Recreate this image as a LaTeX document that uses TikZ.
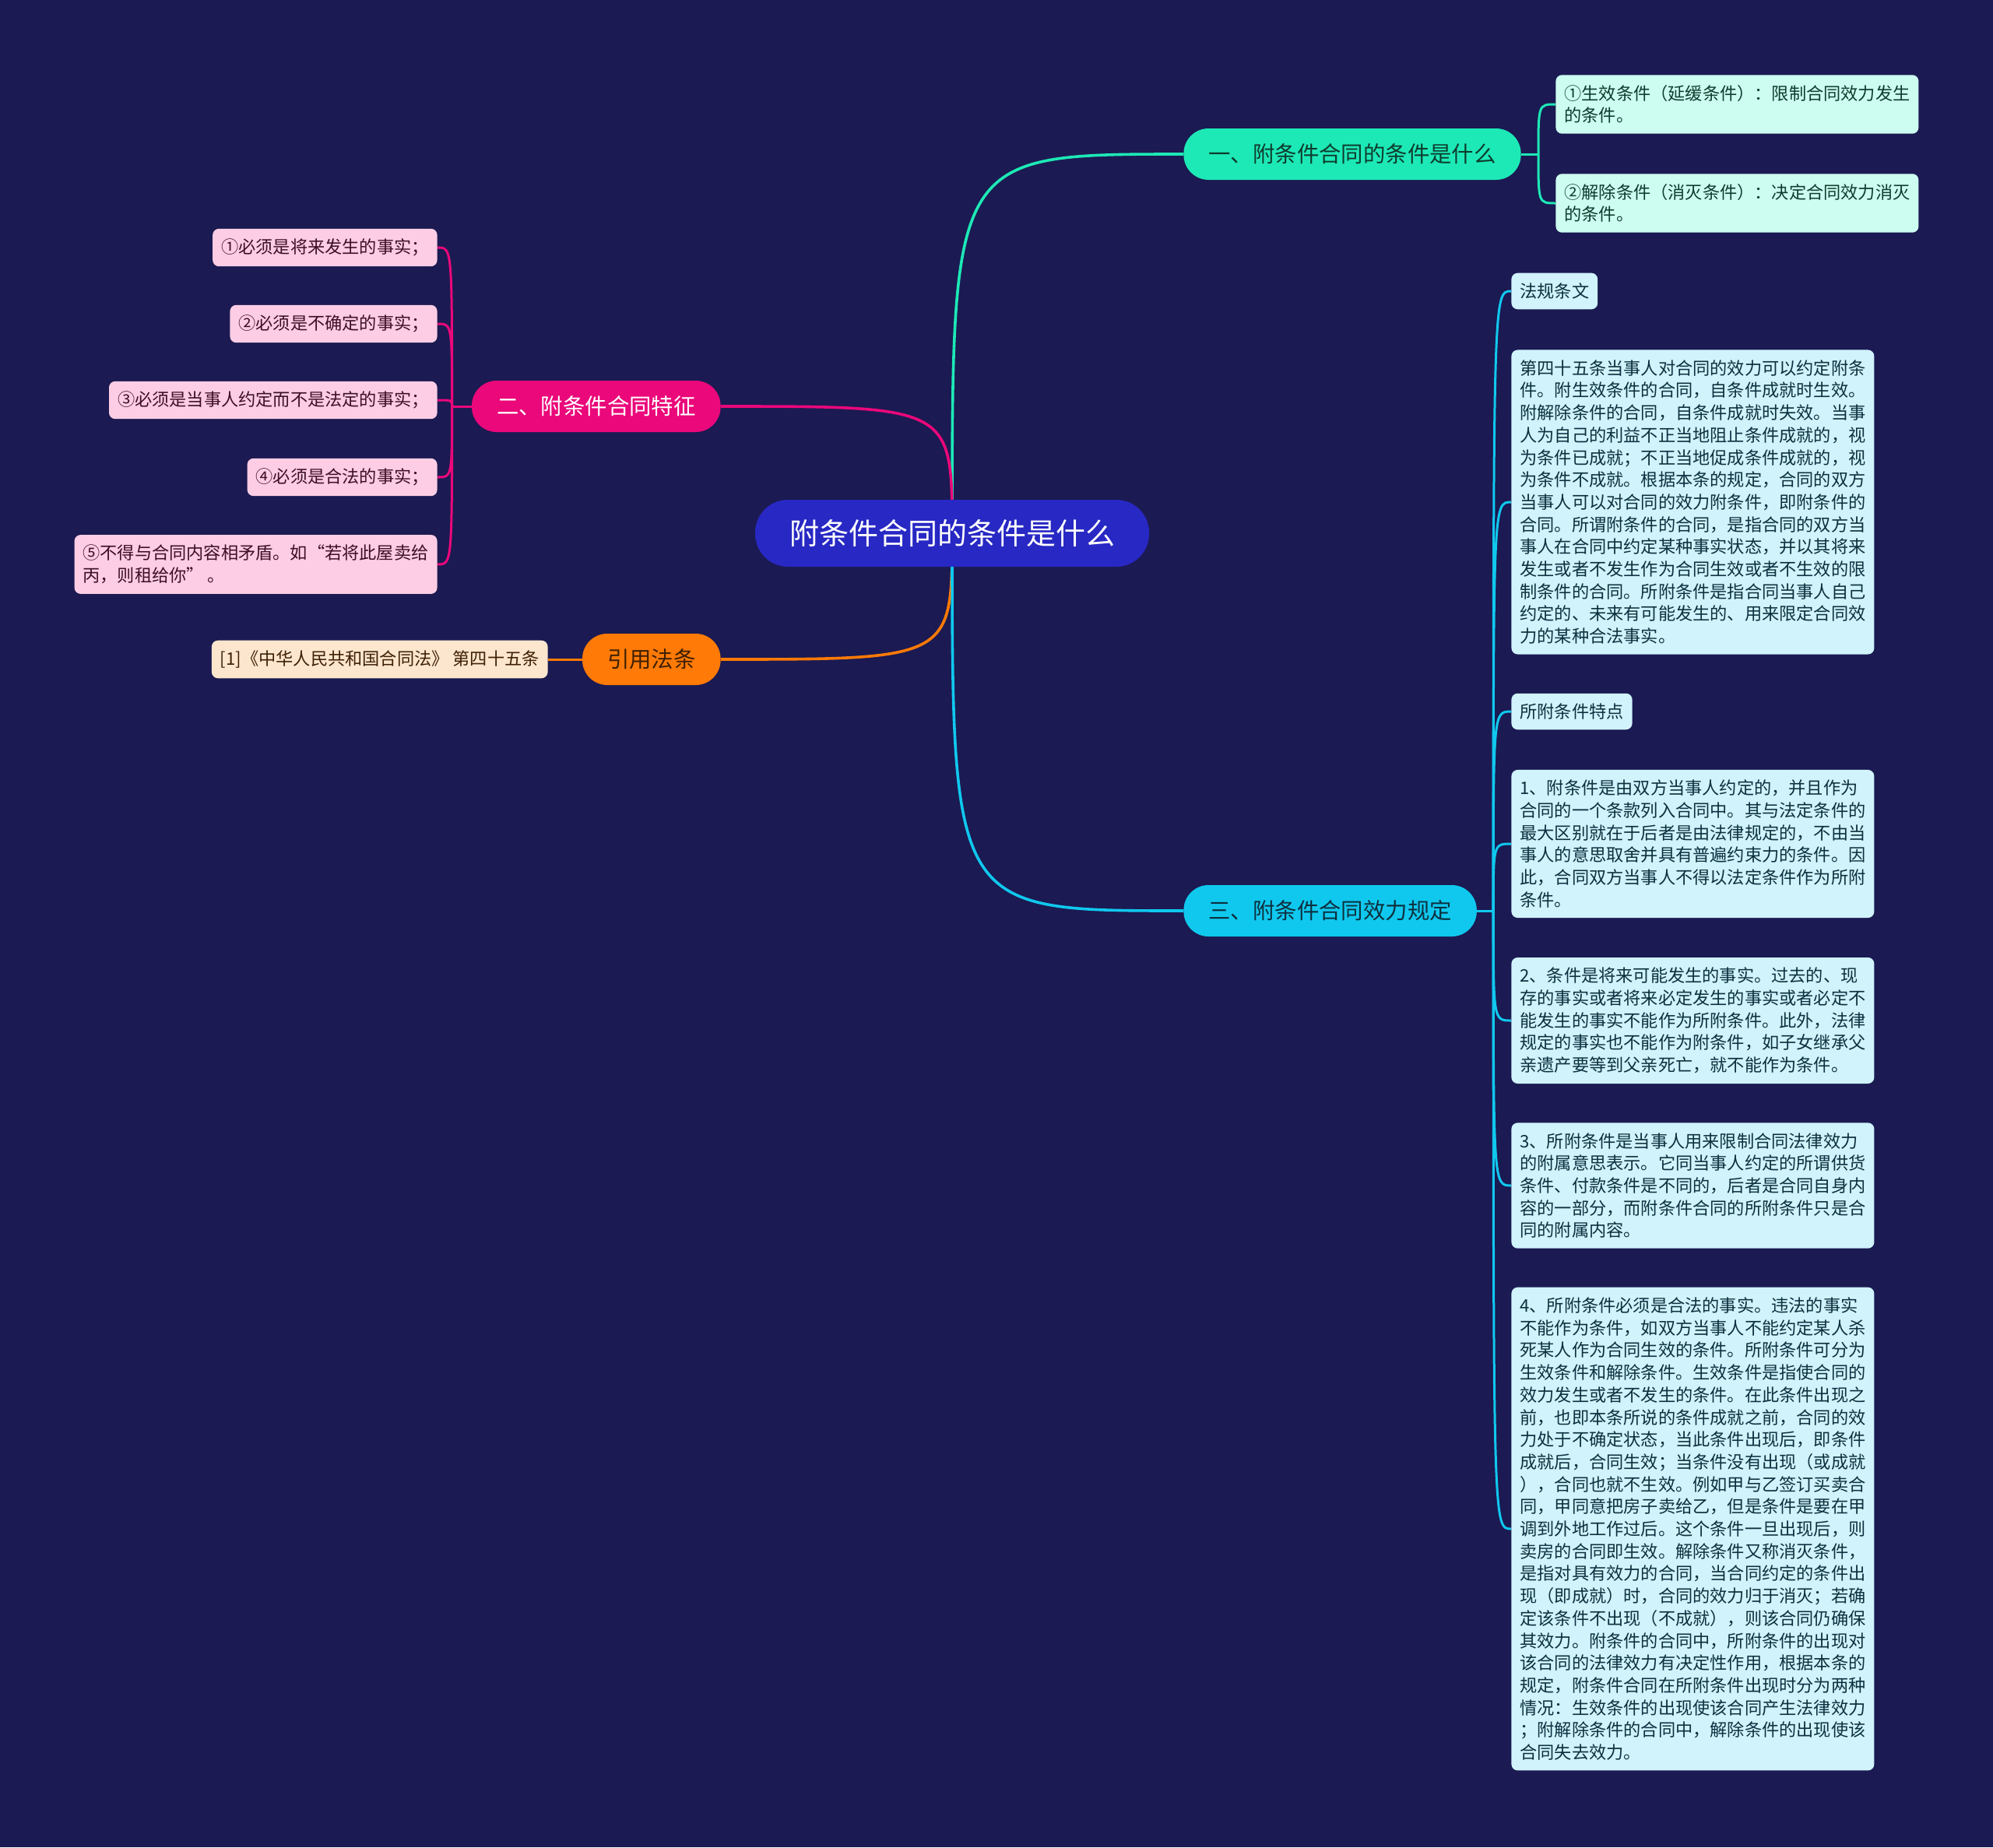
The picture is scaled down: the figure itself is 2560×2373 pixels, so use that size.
\documentclass[tikz,border=0pt]{standalone}
\usepackage{fontspec}
\setmainfont{Noto Sans CJK SC}
\usetikzlibrary{backgrounds}
\definecolor{bgnavy}{RGB}{27,26,82}
\definecolor{rootblue}{RGB}{40,40,196}
\definecolor{condteal}{RGB}{29,233,182}
\definecolor{featpink}{RGB}{234,8,122}
\definecolor{lawsorange}{RGB}{255,122,6}
\definecolor{effcyan}{RGB}{16,200,238}
\definecolor{mintleaf}{RGB}{205,253,240}
\definecolor{pinkleaf}{RGB}{252,205,228}
\definecolor{peachleaf}{RGB}{253,230,206}
\definecolor{cyanleaf}{RGB}{208,243,252}
\definecolor{darkgreen}{RGB}{14,60,46}
\definecolor{darkcyan}{RGB}{12,48,62}
\definecolor{darkpink}{RGB}{62,14,38}
\definecolor{darkbrown}{RGB}{62,32,4}
\newcommand{\leaffont}{\fontsize{11.1pt}{14.35pt}\selectfont}
\newcommand{\branchfont}{\fontsize{14.2pt}{17pt}\selectfont}
\newcommand{\rootfont}{\fontsize{19pt}{23pt}\selectfont}
\tikzset{
  rootbox/.style={fill=rootblue, text=white, rounded corners=21pt, minimum height=43pt, inner xsep=22pt, font=\rootfont},
  branchbox/.style={rounded corners=16pt, minimum height=33pt, inner xsep=16pt, font=\branchfont},
  leafbox/.style={rounded corners=4pt, inner xsep=5.5pt, inner ysep=6.5pt, align=left, font=\leaffont},
  mainlink/.style={line width=1.8pt},
  leaflink/.style={line width=1.5pt}
}
\begin{document}
\begin{tikzpicture}[x=0.5pt, y=-0.5pt]
  % centre and branches
  \node[rootbox] (root) at (1223,685) {附条件合同的条件是什么};
  \node[branchbox, fill=condteal, text=darkgreen, anchor=west] (cond) at (1520,198) {一、附条件合同的条件是什么};
  \node[branchbox, fill=featpink, text=white, anchor=east] (feat) at (926,522) {二、附条件合同特征};
  \node[branchbox, fill=lawsorange, text=darkbrown, anchor=east] (laws) at (926,847) {引用法条};
  \node[branchbox, fill=effcyan, text=darkcyan, anchor=west] (eff) at (1520,1170) {三、附条件合同效力规定};

  % conditions
  \node[leafbox, fill=mintleaf, text=darkgreen, anchor=west] (cond1) at (1998,134) {①生效条件（延缓条件）：限制合同效力发生\\的条件。};
  \node[leafbox, fill=mintleaf, text=darkgreen, anchor=west] (cond2) at (1998,261) {②解除条件（消灭条件）：决定合同效力消灭\\的条件。};

  % features
  \node[leafbox, fill=pinkleaf, text=darkpink, anchor=east] (feat1) at (562,318) {①必须是将来发生的事实；};
  \node[leafbox, fill=pinkleaf, text=darkpink, anchor=east] (feat2) at (562,416) {②必须是不确定的事实；};
  \node[leafbox, fill=pinkleaf, text=darkpink, anchor=east] (feat3) at (562,514) {③必须是当事人约定而不是法定的事实；};
  \node[leafbox, fill=pinkleaf, text=darkpink, anchor=east] (feat4) at (562,613) {④必须是合法的事实；};
  \node[leafbox, fill=pinkleaf, text=darkpink, anchor=east] (feat5) at (562,725) {⑤不得与合同内容相矛盾。如“若将此屋卖给\\丙，则租给你” 。};

  % cited law
  \node[leafbox, fill=peachleaf, text=darkbrown, anchor=east] (lawref) at (704,847) {[1]《中华人民共和国合同法》 第四十五条};

  % effect
  \node[leafbox, fill=cyanleaf, text=darkcyan, anchor=west] (eff1) at (1941,374) {法规条文};
  \node[leafbox, fill=cyanleaf, text=darkcyan, anchor=west] (eff2) at (1941,645) {第四十五条当事人对合同的效力可以约定附条\\件。附生效条件的合同，自条件成就时生效。\\附解除条件的合同，自条件成就时失效。当事\\人为自己的利益不正当地阻止条件成就的，视\\为条件已成就；不正当地促成条件成就的，视\\为条件不成就。根据本条的规定，合同的双方\\当事人可以对合同的效力附条件，即附条件的\\合同。所谓附条件的合同，是指合同的双方当\\事人在合同中约定某种事实状态，并以其将来\\发生或者不发生作为合同生效或者不生效的限\\制条件的合同。所附条件是指合同当事人自己\\约定的、未来有可能发生的、用来限定合同效\\力的某种合法事实。};
  \node[leafbox, fill=cyanleaf, text=darkcyan, anchor=west] (eff3) at (1941,914) {所附条件特点};
  \node[leafbox, fill=cyanleaf, text=darkcyan, anchor=west] (eff4) at (1941,1084) {1、附条件是由双方当事人约定的，并且作为\\合同的一个条款列入合同中。其与法定条件的\\最大区别就在于后者是由法律规定的，不由当\\事人的意思取舍并具有普遍约束力的条件。因\\此，合同双方当事人不得以法定条件作为所附\\条件。};
  \node[leafbox, fill=cyanleaf, text=darkcyan, anchor=west] (eff5) at (1941,1311) {2、条件是将来可能发生的事实。过去的、现\\存的事实或者将来必定发生的事实或者必定不\\能发生的事实不能作为所附条件。此外，法律\\规定的事实也不能作为附条件，如子女继承父\\亲遗产要等到父亲死亡，就不能作为条件。};
  \node[leafbox, fill=cyanleaf, text=darkcyan, anchor=west] (eff6) at (1941,1523) {3、所附条件是当事人用来限制合同法律效力\\的附属意思表示。它同当事人约定的所谓供货\\条件、付款条件是不同的，后者是合同自身内\\容的一部分，而附条件合同的所附条件只是合\\同的附属内容。};
  \node[leafbox, fill=cyanleaf, text=darkcyan, anchor=west] (eff7) at (1941,1964) {4、所附条件必须是合法的事实。违法的事实\\不能作为条件，如双方当事人不能约定某人杀\\死某人作为合同生效的条件。所附条件可分为\\生效条件和解除条件。生效条件是指使合同的\\效力发生或者不发生的条件。在此条件出现之\\前，也即本条所说的条件成就之前，合同的效\\力处于不确定状态，当此条件出现后，即条件\\成就后，合同生效；当条件没有出现（或成就\\），合同也就不生效。例如甲与乙签订买卖合\\同，甲同意把房子卖给乙，但是条件是要在甲\\调到外地工作过后。这个条件一旦出现后，则\\卖房的合同即生效。解除条件又称消灭条件，\\是指对具有效力的合同，当合同约定的条件出\\现（即成就）时，合同的效力归于消灭；若确\\定该条件不出现（不成就），则该合同仍确保\\其效力。附条件的合同中，所附条件的出现对\\该合同的法律效力有决定性作用，根据本条的\\规定，附条件合同在所附条件出现时分为两种\\情况：生效条件的出现使该合同产生法律效力\\；附解除条件的合同中，解除条件的出现使该\\合同失去效力。};

  \begin{scope}[on background layer]
    \fill[bgnavy] (0,0) rectangle (2560,2373);
    % centre to branches
    \draw[mainlink, condteal] (root.center) .. controls (root.center |- cond.west) .. (cond.west);
    \draw[mainlink, featpink] (root.center) .. controls (root.center |- feat.east) .. (feat.east);
    \draw[mainlink, lawsorange] (root.center) .. controls (root.center |- laws.east) .. (laws.east);
    \draw[mainlink, effcyan] (root.center) .. controls (root.center |- eff.west) .. (eff.west);
    % branches to leaves
    \draw[leaflink, condteal] (cond.east) -- ++(22,0) coordinate (condfork);
    \foreach \n in {cond1,cond2}
      \draw[leaflink, condteal] (condfork) .. controls (condfork |- \n.west) .. (\n.west);
    \draw[leaflink, featpink] (feat.west) -- ++(-25,0) coordinate (featfork);
    \foreach \n in {feat1,feat2,feat3,feat4,feat5}
      \draw[leaflink, featpink] (featfork) .. controls (featfork |- \n.east) .. (\n.east);
    \draw[leaflink, lawsorange] (laws.west) -- (lawref.east);
    \draw[leaflink, effcyan] (eff.east) -- ++(21,0) coordinate (efffork);
    \foreach \n in {eff1,eff2,eff3,eff4,eff5,eff6,eff7}
      \draw[leaflink, effcyan] (efffork) .. controls (efffork |- \n.west) .. (\n.west);
  \end{scope}
\end{tikzpicture}
\end{document}
